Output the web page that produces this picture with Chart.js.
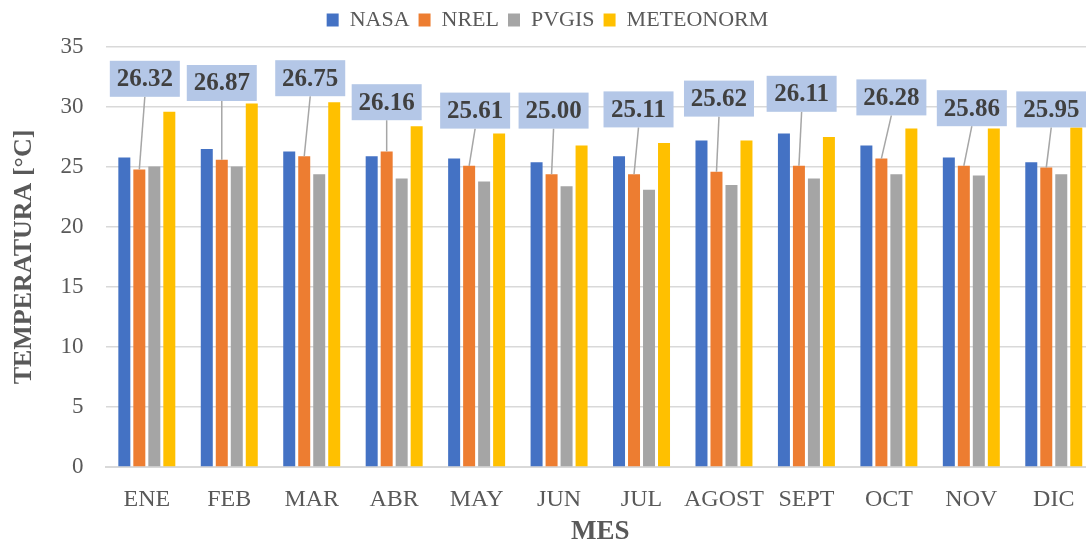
<!DOCTYPE html>
<html>
<head>
<meta charset="utf-8">
<script src="https://cdn.jsdelivr.net/npm/chart.js@4/dist/chart.umd.min.js"></script>
<style>
  html, body { margin: 0; padding: 0; overflow: hidden; background: #fff; }
  #wrap { width: 1104px; height: 548px; }
</style>
</head>
<body>
<div id="wrap"><canvas id="c" width="1104" height="548"></canvas></div>
<script>
// ---- data ----
const months = ['ENE','FEB','MAR','ABR','MAY','JUN','JUL','AGOST','SEPT','OCT','NOV','DIC'];
const nasa      = [25.8, 26.5, 26.3, 25.9, 25.7, 25.4, 25.9, 27.2, 27.8, 26.8, 25.8, 25.4];
const nrel      = [24.8, 25.6, 25.9, 26.3, 25.1, 24.4, 24.4, 24.6, 25.1, 25.7, 25.1, 24.95];
const pvgis     = [25.05, 25.05, 24.4, 24.05, 23.8, 23.4, 23.1, 23.5, 24.05, 24.4, 24.3, 24.4];
const meteonorm = [29.6, 30.3, 30.4, 28.4, 27.8, 26.8, 27.0, 27.2, 27.5, 28.2, 28.2, 28.3];
const averages  = ['26.32','26.87','26.75','26.16','25.61','25.00','25.11','25.62','26.11','26.28','25.86','25.95'];
const yTicks    = [0, 5, 10, 15, 20, 25, 30, 35];

// callout placement (layout only)
const calloutLevel = [32.35, 32.0, 32.4, 30.4, 29.7, 29.7, 29.8, 30.7, 31.1, 30.8, 29.9, 29.8];
const calloutDx    = [5.5, 0, 6, 0, 6, 2, 4.5, 2.5, 2.7, 10, 8, 5];

const SERIF = '"Liberation Serif", "Times New Roman", serif';

const calloutPlugin = {
  id: 'callouts',
  afterDatasetsDraw(chart) {
    const ctx = chart.ctx;
    const meta = chart.getDatasetMeta(1);
    const ys = chart.scales.y;
    const w = 70, h = 36;
    ctx.save();
    meta.data.forEach((bar, i) => {
      const cx = bar.x + calloutDx[i];
      const cy = ys.getPixelForValue(calloutLevel[i]);
      ctx.strokeStyle = '#A6A6A6';
      ctx.lineWidth = 1.5;
      ctx.beginPath();
      ctx.moveTo(cx, cy + h / 2);
      ctx.lineTo(bar.x, bar.y);
      ctx.stroke();
      ctx.fillStyle = '#B4C7E7';
      ctx.fillRect(cx - w / 2, cy - h / 2, w, h);
      ctx.fillStyle = '#404040';
      ctx.font = 'bold 25px ' + SERIF;
      ctx.textAlign = 'center';
      ctx.textBaseline = 'middle';
      ctx.fillText(averages[i], cx, cy + 1);
    });
    ctx.restore();
  }
};

// extra space below the legend
const legendSpacer = {
  id: 'legendSpacer',
  beforeInit(chart) {
    const lg = chart.legend;
    const orig = lg.fit;
    lg.fit = function () { orig.call(this); this.height += 6; };
  }
};

const mk = (label, data, color) => ({
  label, data, backgroundColor: color, borderWidth: 0,
  categoryPercentage: 0.7275, barPercentage: 0.8
});

new Chart(document.getElementById('c'), {
  type: 'bar',
  data: {
    labels: months,
    datasets: [
      mk('NASA', nasa, '#4472C4'),
      mk('NREL', nrel, '#ED7D31'),
      mk('PVGIS', pvgis, '#A5A5A5'),
      mk('METEONORM', meteonorm, '#FFC000')
    ]
  },
  options: {
    responsive: false,
    animation: false,
    devicePixelRatio: 1,
    layout: { padding: { top: 0, right: 9, bottom: 0, left: 0 } },
    plugins: {
      legend: {
        position: 'top',
        labels: {
          boxWidth: 12, boxHeight: 13, padding: 9,
          color: '#595959',
          font: { family: SERIF, size: 22 }
        }
      },
      tooltip: { enabled: false }
    },
    scales: {
      x: {
        grid: { display: false },
        border: { display: true, color: '#D9D9D9', width: 2 },
        ticks: { color: '#595959', font: { family: SERIF, size: 24 }, padding: 10, maxRotation: 0, autoSkip: false },
        title: { display: true, text: 'MES', color: '#595959', font: { family: SERIF, size: 27, weight: 'bold' }, padding: { top: 2, bottom: 0 } },
        afterFit(scale) { scale.height = 81; }
      },
      y: {
        min: 0, max: 35,
        afterBuildTicks(scale) { scale.ticks = yTicks.map(v => ({ value: v })); },
        grid: { color: '#D9D9D9', lineWidth: 1.5, drawTicks: false },
        border: { display: false },
        ticks: { color: '#595959', font: { family: SERIF, size: 23 }, padding: 22 },
        title: { display: true, text: 'TEMPERATURA [°C]', color: '#595959', font: { family: SERIF, size: 26, weight: 'bold' }, padding: { top: 9, bottom: 0 } },
        afterFit(scale) { scale.width = 105.6; }
      }
    }
  },
  plugins: [calloutPlugin, legendSpacer]
});
</script>
</body>
</html>
